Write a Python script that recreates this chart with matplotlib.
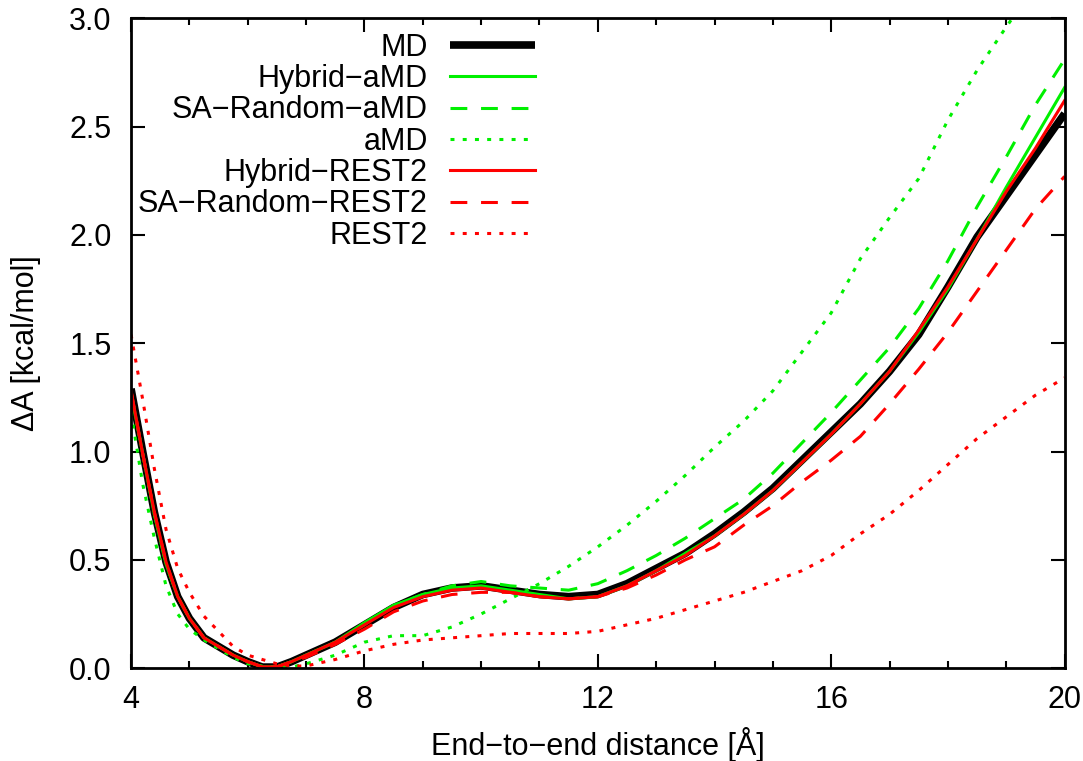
import matplotlib
matplotlib.use('Agg')
import matplotlib.pyplot as plt
from matplotlib.ticker import MultipleLocator

plt.rcParams['font.family'] = ['Liberation Sans', 'DejaVu Sans']

''' dados lidos da figura '''

dist = [4.0, 4.2, 4.4, 4.6, 4.8, 5.0, 5.25, 5.5, 5.75, 6.0, 6.25, 6.5, 6.75, 7.0,
        7.5, 8.0, 8.5, 9.0, 9.5, 10.0, 10.5, 11.0, 11.5, 12.0, 12.5, 13.0, 13.5,
        14.0, 14.5, 15.0, 15.5, 16.0, 16.5, 17.0, 17.5, 18.0, 18.5, 19.0, 19.5, 20.0]

md = [1.29, 1.00, 0.72, 0.49, 0.33, 0.23, 0.14, 0.10, 0.06, 0.03, 0.005, 0.005, 0.03, 0.06,
      0.12, 0.20, 0.28, 0.34, 0.37, 0.38, 0.36, 0.34, 0.33, 0.34, 0.39, 0.46, 0.53,
      0.62, 0.72, 0.83, 0.96, 1.09, 1.22, 1.37, 1.54, 1.76, 1.99, 2.18, 2.37, 2.56]

hybrid_amd = [1.27, 0.99, 0.71, 0.48, 0.33, 0.23, 0.14, 0.10, 0.06, 0.03, 0.006, 0.006, 0.03, 0.06,
              0.12, 0.21, 0.29, 0.34, 0.37, 0.38, 0.36, 0.34, 0.32, 0.33, 0.38, 0.45, 0.53,
              0.61, 0.71, 0.82, 0.95, 1.08, 1.22, 1.37, 1.55, 1.75, 1.98, 2.22, 2.45, 2.68]

sa_random_amd = [1.27, 0.99, 0.71, 0.48, 0.33, 0.23, 0.14, 0.10, 0.06, 0.03, 0.006, 0.006, 0.03, 0.06,
                 0.12, 0.20, 0.29, 0.34, 0.38, 0.40, 0.38, 0.37, 0.36, 0.39, 0.45, 0.52, 0.60,
                 0.69, 0.78, 0.90, 1.04, 1.18, 1.33, 1.48, 1.66, 1.88, 2.13, 2.36, 2.60, 2.81]

amd = [1.18, 0.85, 0.60, 0.38, 0.25, 0.18, 0.13, 0.09, 0.05, 0.02, 0.01, 0.005, 0.005, 0.02,
       0.06, 0.12, 0.15, 0.15, 0.19, 0.25, 0.32, 0.39, 0.47, 0.56, 0.66, 0.77, 0.89,
       1.02, 1.14, 1.28, 1.46, 1.64, 1.89, 2.08, 2.26, 2.53, 2.76, 2.96, 3.15, 3.30]

hybrid_rest2 = [1.28, 0.99, 0.72, 0.49, 0.33, 0.23, 0.14, 0.10, 0.06, 0.03, 0.006, 0.006, 0.03, 0.06,
                0.12, 0.20, 0.28, 0.33, 0.36, 0.37, 0.35, 0.33, 0.32, 0.33, 0.38, 0.45, 0.52,
                0.61, 0.71, 0.82, 0.95, 1.08, 1.22, 1.37, 1.56, 1.76, 1.98, 2.20, 2.40, 2.62]

sa_random_rest2 = [1.28, 0.99, 0.72, 0.49, 0.33, 0.23, 0.14, 0.10, 0.06, 0.03, 0.006, 0.006, 0.03, 0.05,
                   0.11, 0.18, 0.26, 0.31, 0.34, 0.35, 0.35, 0.33, 0.32, 0.33, 0.37, 0.43, 0.50,
                   0.56, 0.66, 0.75, 0.86, 0.96, 1.07, 1.22, 1.38, 1.55, 1.74, 1.93, 2.12, 2.27]

rest2 = [1.54, 1.24, 0.92, 0.64, 0.46, 0.35, 0.24, 0.17, 0.10, 0.06, 0.04, 0.02, 0.01, 0.01,
         0.04, 0.08, 0.11, 0.13, 0.14, 0.15, 0.16, 0.16, 0.16, 0.17, 0.20, 0.23, 0.27,
         0.31, 0.35, 0.40, 0.45, 0.52, 0.62, 0.71, 0.82, 0.94, 1.06, 1.16, 1.26, 1.34]

labels = ['MD', 'Hybrid\u2212aMD', 'SA\u2212Random\u2212aMD', 'aMD',
          'Hybrid\u2212REST2', 'SA\u2212Random\u2212REST2', 'REST2']

''' plotando grafico '''

green = '#00f000'
red = '#ff0000'
dashed = (0, (5.5, 4.5))
dotted = (0, (1.3, 2.7))
fs = 22

fig = plt.figure(figsize=(10.83, 7.61), dpi=100)
ax = fig.add_axes([0.121, 0.122, 0.862, 0.854])

ax.plot(dist, md, color='black', lw=5.5, label=labels[0], solid_capstyle='butt')
ax.plot(dist, hybrid_amd, color=green, lw=2.2, label=labels[1])
ax.plot(dist, sa_random_amd, color=green, lw=2.2, ls=dashed, label=labels[2])
ax.plot(dist, amd, color=green, lw=2.2, ls=dotted, label=labels[3])
ax.plot(dist, hybrid_rest2, color=red, lw=2.2, label=labels[4])
ax.plot(dist, sa_random_rest2, color=red, lw=2.2, ls=dashed, label=labels[5])
ax.plot(dist, rest2, color=red, lw=2.2, ls=dotted, label=labels[6])

ax.set_xlim(4, 20)
ax.set_ylim(0, 3)
ax.xaxis.set_major_locator(MultipleLocator(4))
ax.xaxis.set_minor_locator(MultipleLocator(1))
ax.yaxis.set_major_locator(MultipleLocator(0.5))
ax.yaxis.set_major_formatter(plt.FormatStrFormatter('%.1f'))

ax.tick_params(which='both', direction='in', top=True, right=True, width=1.5, labelsize=fs)
ax.tick_params(which='major', length=10)
ax.tick_params(which='minor', length=5)
ax.tick_params(axis='x', which='major', pad=12)
ax.tick_params(axis='y', which='major', pad=14)
for s in ax.spines.values():
    s.set_linewidth(2)

ax.set_xlabel('End\u2212to\u2212end distance [\u00c5]', fontsize=fs, labelpad=9)
ax.set_ylabel('\u0394A [kcal/mol]', fontsize=fs, labelpad=20)

# texto alinhado a direita, linha de amostra a direita
ax.legend(loc='upper right', bbox_to_anchor=(0.433, 0.978), frameon=False,
          markerfirst=False, fontsize=fs, handlelength=2.8, handletextpad=0.72,
          labelspacing=0.045, borderpad=0, borderaxespad=0)

fig.savefig('out.png', dpi=100)
